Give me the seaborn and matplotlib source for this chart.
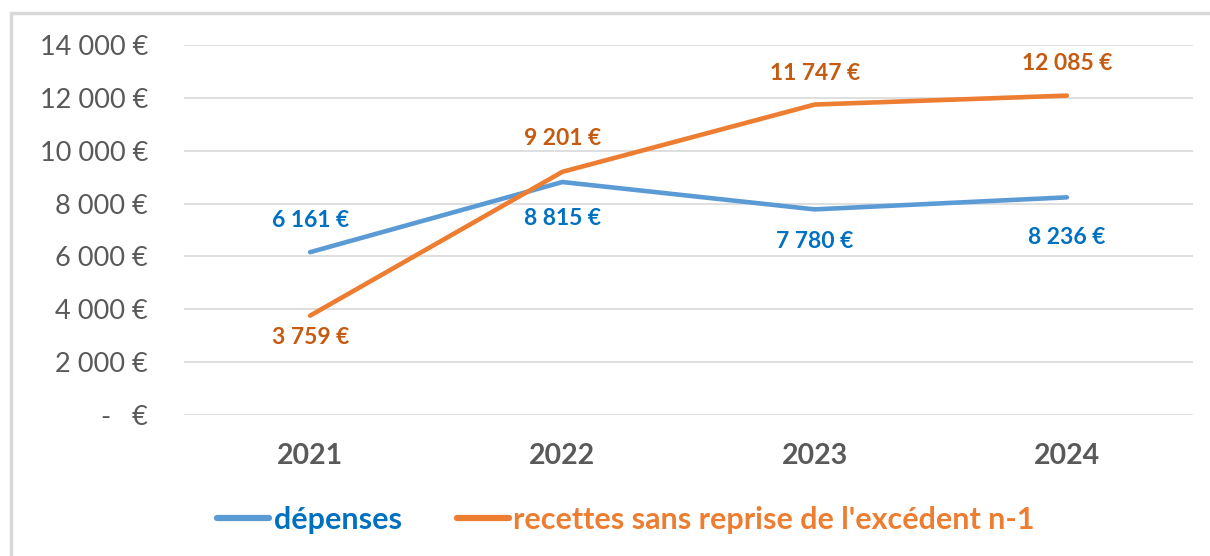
import pandas as pd
import matplotlib.pyplot as plt
import seaborn as sns
from matplotlib.patches import Rectangle
from matplotlib.lines import Line2D

years = ['2021', '2022', '2023', '2024']
depenses = [6161, 8815, 7780, 8236]
recettes = [3759, 9201, 11747, 12085]
series_names = ['dépenses', "recettes sans reprise de l'excédent n-1"]
y_ticks = [0, 2000, 4000, 6000, 8000, 10000, 12000, 14000]

BLUE = '#5B9BD5'
ORANGE = '#ED7D31'
BLUE_TXT = '#0070C0'
ORANGE_TXT = '#C55A11'
GREY = '#595959'


def fmt_euro(v):
    if v == 0:
        return '-   €'
    return f"{v:,.0f}".replace(',', ' ') + ' €'


def create_chart():
    df = pd.DataFrame({
        'Année': years * 2,
        'Montant': depenses + recettes,
        'Série': [series_names[0]] * 4 + [series_names[1]] * 4,
    })

    sns.set_style('white')
    plt.rcParams['font.family'] = ['Lato', 'DejaVu Sans']

    fig = plt.figure(figsize=(12.1, 5.56), dpi=100)
    ax = fig.add_axes([184 / 1210, 1 - 415 / 556, (1193 - 184) / 1210, (415 - 45) / 556])

    sns.lineplot(data=df, x='Année', y='Montant', hue='Série',
                 palette=[BLUE, ORANGE], linewidth=3.3, legend=False,
                 sort=False, ax=ax)

    ax.set_xlim(-0.5, 3.5)
    ax.set_ylim(0, 14000)
    ax.set_yticks(y_ticks)
    ax.set_yticklabels([fmt_euro(v) for v in y_ticks], fontsize=19.5, color=GREY)
    ax.tick_params(axis='y', length=0, pad=26)
    ax.tick_params(axis='x', length=0, pad=20, labelsize=20.5, labelcolor=GREY)
    for lab in ax.get_xticklabels():
        lab.set_fontweight('bold')
    ax.set_xlabel('')
    ax.set_ylabel('')
    ax.grid(axis='y', color='#D9D9D9', linewidth=1.2)
    ax.set_axisbelow(True)
    for s in ax.spines.values():
        s.set_visible(False)

    # data labels (offsets in points)
    dep_off = [23, -26, -23, -29]
    rec_off = [-16, 24, 22, 23]
    for i, v in enumerate(depenses):
        ax.annotate(fmt_euro(v), (i, v), xytext=(0, dep_off[i]), textcoords='offset points',
                    ha='center', va='center', fontsize=16.5, fontweight='bold', color=BLUE_TXT)
    for i, v in enumerate(recettes):
        ax.annotate(fmt_euro(v), (i, v), xytext=(0, rec_off[i]), textcoords='offset points',
                    ha='center', va='center', fontsize=16.5, fontweight='bold', color=ORANGE_TXT)

    # legend
    handles = [Line2D([], [], color=BLUE, linewidth=4.5, solid_capstyle='round'),
               Line2D([], [], color=ORANGE, linewidth=4.5, solid_capstyle='round')]
    leg = fig.legend(handles, series_names, loc='center', bbox_to_anchor=(626 / 1210, 1 - 520 / 556),
                     ncol=2, frameon=False, handlelength=1.7, handletextpad=0.15,
                     columnspacing=1.8, prop={'weight': 'bold', 'size': 22})
    for t, c in zip(leg.get_texts(), [BLUE_TXT, ORANGE]):
        t.set_color(c)

    # chart border (left and top visible)
    fig.patches.append(Rectangle((11 / 1210, -0.01), 1.02, 1 - 13 / 556 + 0.01,
                                 transform=fig.transFigure, fill=False,
                                 edgecolor='#D9D9D9', linewidth=2.5, clip_on=False))

    fig.savefig('out.png', dpi=100, facecolor='white')


if __name__ == '__main__':
    create_chart()
